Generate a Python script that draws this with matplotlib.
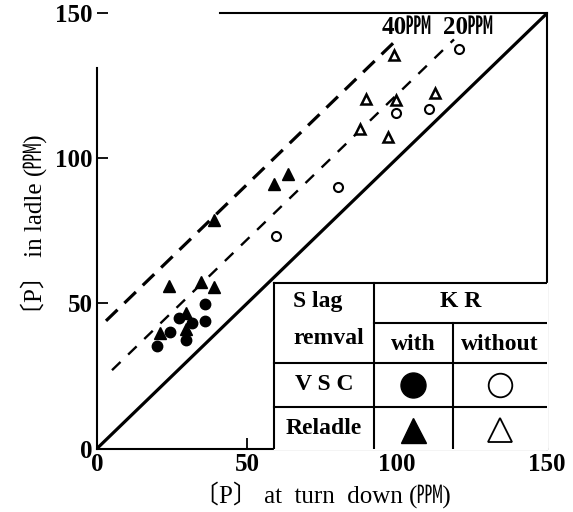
import matplotlib
matplotlib.use("Agg")
from matplotlib import pyplot as plt
import numpy as np

# data: [P] at turn down vs [P] in ladle (ppm)
# VSC, with KR (filled circle)
vsc_kr_x = [36.0, 27.4, 31.8, 36.1, 24.3, 29.6, 19.9]
vsc_kr_y = [49.7, 45.1, 43.4, 44.1, 40.1, 37.4, 35.3]
# VSC, without KR (open circle)
vsc_nokr_x = [59.7, 80.2, 99.6, 110.7, 120.7]
vsc_nokr_y = [73.3, 90.3, 115.8, 117.1, 137.8]
# Reladle, with KR (filled triangle)
rel_kr_x = [24.1, 34.7, 39.0, 29.6, 29.6, 21.0, 63.6, 59.0, 39.0]
rel_kr_y = [56.0, 57.5, 55.6, 46.8, 41.1, 39.9, 94.7, 91.2, 78.8]
# Reladle, without KR (open triangle)
rel_nokr_x = [99.1, 89.7, 99.6, 112.7, 87.7, 96.9]
rel_nokr_y = [135.7, 120.4, 120.2, 122.7, 110.1, 107.5]

# reference lines: y = x, and offsets of ~20 and ~40 ppm
line_40_x = [3, 100]
line_40_off = 41
line_20_x = [5, 119]
line_20_off = 22

ticks = [0, 50, 100, 150]
unit = "\u33d9"  # square ppm

fam = ["Liberation Serif", "Noto Sans CJK JP", "DejaVu Sans"]
plt.rcParams['font.family'] = fam
plt.rcParams['font.weight'] = 'bold'

fig = plt.figure(figsize=(5.73, 5.12), dpi=100)
ax = fig.add_axes([0.1693, 0.124, 0.9546 - 0.1693, 0.974 - 0.124])

ax.plot([0, 150], [0, 150], color='black', lw=2.3, solid_capstyle='butt')
x40 = np.array(line_40_x)
ax.plot(x40, x40 + line_40_off, color='black', lw=2.3, dashes=(5, 3))
x20 = np.array(line_20_x)
ax.plot(x20, x20 + line_20_off, color='black', lw=1.7, dashes=(5, 4.5))

ax.plot(vsc_kr_x, vsc_kr_y, 'o', color='black', ms=7.5, zorder=5)
ax.plot(vsc_nokr_x, vsc_nokr_y, 'o', mfc='white', mec='black', mew=1.5, ms=6.5, zorder=5)
ax.plot(rel_kr_x, rel_kr_y, '^', color='black', ms=8, zorder=5)
ax.plot(rel_nokr_x, rel_nokr_y, '^', mfc='white', mec='black', mew=1.8, ms=6.5, zorder=5)

ax.text(95, 145, "40" + unit, fontsize=18, va='center', ha='left')
ax.text(115.3, 145, "20" + unit, fontsize=18, va='center', ha='left')

ax.set_xlim(0, 150)
ax.set_ylim(0, 150)
ax.set_xticks(ticks)
ax.set_yticks(ticks)
ax.tick_params(direction='in', length=8, width=1.3, labelsize=18, pad=3)
for s in ax.spines.values():
    s.set_linewidth(1.5)
ax.spines['left'].set_bounds(0, 131)
ax.spines['top'].set_bounds(41, 150)

ax.set_xlabel("\u3014P\u3015 at  turn  down (" + unit + ")", fontsize=18, labelpad=4)
ax.set_ylabel("\u3014P\u3015 in ladle (" + unit + ")", fontsize=18, labelpad=6)

# legend table in the lower right corner
tx0, tx1, tx2, tx3 = 59, 92.3, 118.6, 150
ty0, ty1, ty2, ty3, ty4 = 57.0, 43.4, 29.4, 14.4, 0
ax.fill_between([tx0, tx3], ty4, ty0, color='white', zorder=6)
lk = dict(color='black', lw=1.5, zorder=7)
ax.plot([tx0, tx3], [ty0, ty0], **lk)
ax.plot([tx0, tx0], [ty0, ty4], **lk)
ax.plot([tx1, tx1], [ty0, ty4], **lk)
ax.plot([tx1, tx3], [ty1, ty1], **lk)
ax.plot([tx2, tx2], [ty1, ty4], **lk)
ax.plot([tx0, tx3], [ty2, ty2], **lk)
ax.plot([tx0, tx3], [ty3, ty3], **lk)

c1 = (tx0 + tx1) / 2
c2 = (tx1 + tx2) / 2
c3 = (tx2 + tx3) / 2
tk = dict(fontsize=17, ha='center', va='center', zorder=8)
ax.text(c1 - 2, 50.5, "S lag", **tk)
ax.text(c1 + 1.5, 38, "remval", **tk)
ax.text((tx1 + tx3) / 2, 50.5, "K R", **tk)
ax.text(c2, 36, "with", **tk)
ax.text(c3, 36, "without", **tk)
ax.text(c1, 22, "V S C", **tk)
ax.text(c1, 7, "Reladle", **tk)
ax.plot([c2], [22], 'o', color='black', ms=18, zorder=8)
ax.plot([c3], [22], 'o', mfc='white', mec='black', mew=1.3, ms=17, zorder=8)
ax.plot([c2], [6.5], '^', color='black', ms=18, zorder=8)
ax.plot([c3], [6.5], '^', mfc='white', mec='black', mew=1.3, ms=17, zorder=8)

fig.savefig("out.png", dpi=100)
